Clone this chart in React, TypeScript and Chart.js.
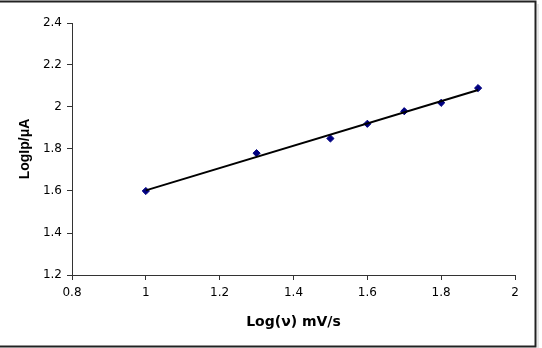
import React, { useEffect, useRef } from "react";
import { Chart, registerables } from "chart.js";

Chart.register(...registerables);

const logScanRate = [1.0, 1.3, 1.5, 1.6, 1.7, 1.8, 1.9];
const logPeakCurrent = [1.6, 1.78, 1.85, 1.92, 1.98, 2.02, 2.09];

const xTickValues = [0.8, 1, 1.2, 1.4, 1.6, 1.8, 2];
const xTickLabels = ["0.8", "1", "1.2", "1.4", "1.6", "1.8", "2"];
const yTickValues = [1.2, 1.4, 1.6, 1.8, 2, 2.2, 2.4];
const yTickLabels = ["1.2", "1.4", "1.6", "1.8", "2", "2.2", "2.4"];

const xTitle = "Log(ν) mV/s";
const yTitle = "LogIp/μA";

function linearFit(xs: number[], ys: number[]) {
  const n = xs.length;
  const mx = xs.reduce((a, b) => a + b, 0) / n;
  const my = ys.reduce((a, b) => a + b, 0) / n;
  let sxy = 0;
  let sxx = 0;
  for (let i = 0; i < n; i++) {
    sxy += (xs[i] - mx) * (ys[i] - my);
    sxx += (xs[i] - mx) * (xs[i] - mx);
  }
  const slope = sxy / sxx;
  return { slope, intercept: my - slope * mx };
}

const frame = {
  id: "frame",
  afterDraw(chart: any) {
    const ctx = chart.ctx;
    ctx.save();
    ctx.strokeStyle = "#d0d0d0";
    ctx.lineWidth = 1;
    ctx.beginPath();
    ctx.moveTo(538, 4);
    ctx.lineTo(538, 348);
    ctx.stroke();
    ctx.strokeStyle = "#222";
    ctx.lineWidth = 2;
    ctx.strokeRect(-10, 1.5, 545.5, 345);
    ctx.restore();
  },
};

export default function App() {
  const ref = useRef<HTMLCanvasElement>(null);
  useEffect(() => {
    const fit = linearFit(logScanRate, logPeakCurrent);
    const x0 = logScanRate[0];
    const x1 = logScanRate[logScanRate.length - 1];
    const tickFont = { family: "'DejaVu Sans'", size: 12 };
    const chart = new Chart(ref.current as HTMLCanvasElement, {
      type: "scatter",
      data: {
        datasets: [
          {
            type: "line",
            label: "Linear fit",
            data: [
              { x: x0, y: fit.intercept + fit.slope * x0 },
              { x: x1, y: fit.intercept + fit.slope * x1 },
            ],
            borderColor: "#000",
            borderWidth: 2,
            pointRadius: 0,
            fill: false,
            order: 0,
          } as any,
          {
            label: "LogIp",
            data: logScanRate.map((x, i) => ({ x, y: logPeakCurrent[i] })),
            pointStyle: "rectRot",
            pointRadius: 3.6,
            backgroundColor: "#000080",
            borderColor: "#000080",
            borderWidth: 1,
            order: 1,
          },
        ],
      },
      options: {
        animation: false,
        responsive: false,
        devicePixelRatio: 1,
        layout: { padding: { top: 23, right: 27, left: 0, bottom: 0 } },
        plugins: { legend: { display: false }, tooltip: { enabled: false } },
        scales: {
          x: {
            type: "linear",
            min: 0.8,
            max: 2,
            afterBuildTicks: (s: any) => {
              s.ticks = xTickValues.map((v) => ({ value: v }));
            },
            afterFit: (s: any) => {
              s.height = 73;
            },
            ticks: {
              callback: (v: any, i: number) => xTickLabels[i],
              font: tickFont,
              color: "#000",
              padding: 6,
              maxRotation: 0,
            },
            grid: {
              drawOnChartArea: false,
              drawTicks: true,
              tickLength: 5,
              tickColor: "#333",
            },
            border: { display: true, color: "#333", width: 1 },
            title: {
              display: true,
              text: xTitle,
              color: "#000",
              font: { family: "'DejaVu Sans'", size: 14, weight: "bold" },
              padding: { top: 0, bottom: 17 },
            },
          },
          y: {
            type: "linear",
            min: 1.2,
            max: 2.4,
            afterBuildTicks: (s: any) => {
              s.ticks = yTickValues.map((v) => ({ value: v }));
            },
            afterFit: (s: any) => {
              s.width = 72;
            },
            ticks: {
              callback: (v: any, i: number) => yTickLabels[i],
              font: tickFont,
              color: "#000",
              padding: 5,
            },
            grid: {
              drawOnChartArea: false,
              drawTicks: true,
              tickLength: 5,
              tickColor: "#333",
            },
            border: { display: true, color: "#333", width: 1 },
            title: {
              display: true,
              text: yTitle,
              color: "#000",
              font: { family: "'Liberation Sans'", size: 14, weight: "bold" },
              padding: { top: 17, bottom: 0 },
            },
          },
        },
      },
      plugins: [frame],
    } as any);
    return () => chart.destroy();
  }, []);
  return (
    <div style={{ position: "absolute", left: 0, top: 0, width: 542, height: 348, background: "#fff" }}>
      <canvas ref={ref} width={542} height={348} />
    </div>
  );
}
